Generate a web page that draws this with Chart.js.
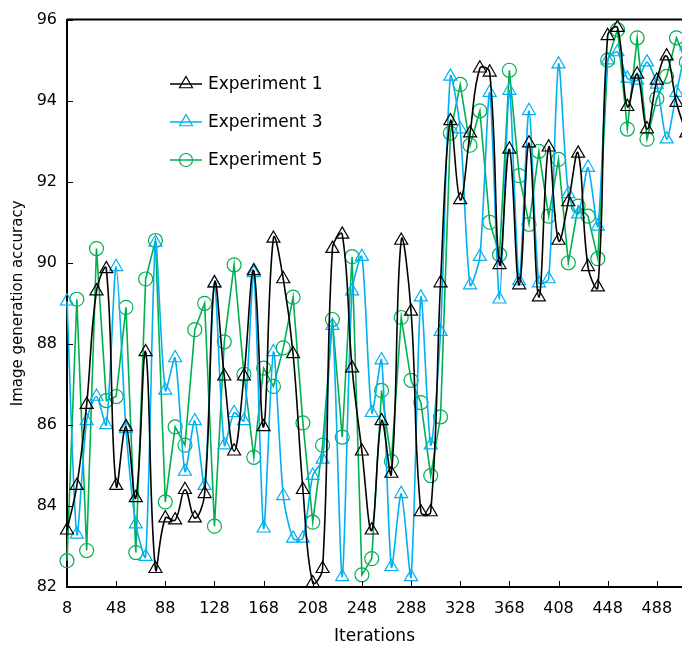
<!DOCTYPE html>
<html>
<head>
<meta charset="utf-8">
<script src="https://cdn.jsdelivr.net/npm/chart.js@4.4.1/dist/chart.umd.min.js"></script>
<style>
  body { margin: 0; background: #fff; overflow: hidden; }
  #wrap { width: 682px; height: 647px; }
</style>
</head>
<body>
<div id="wrap"><canvas id="chart" width="682" height="647"></canvas></div>
<script>
const iterations = [8, 16, 24, 32, 40, 48, 56, 64, 72, 80, 88, 96, 104, 112, 120, 128,
    136, 144, 152, 160, 168, 176, 184, 192, 200, 208, 216, 224, 232, 240, 248, 256,
    264, 272, 280, 288, 296, 304, 312, 320, 328, 336, 344, 352, 360, 368, 376, 384,
    392, 400, 408, 416, 424, 432, 440, 448, 456, 464, 472, 480, 488, 496, 504, 512];

const experiment1 = [83.4, 84.5, 86.5, 89.3, 89.85, 84.5, 85.95, 84.2, 87.8, 82.45,
    83.7, 83.65, 84.4, 83.7, 84.3, 89.5, 87.2, 85.35, 87.2, 89.8,
    85.95, 90.6, 89.6, 87.75, 84.4, 82.1, 82.45, 90.35, 90.7, 87.4,
    85.35, 83.4, 86.1, 84.8, 90.55, 88.8, 83.85, 83.85, 89.5, 93.5,
    91.55, 93.2, 94.8, 94.7, 89.95, 92.8, 89.45, 92.95, 89.15, 92.85,
    90.55, 91.5, 92.7, 89.9, 89.4, 95.6, 95.8, 93.85, 94.65, 93.3,
    94.5, 95.1, 93.95, 93.2];

const experiment3 = [89.05, 83.3, 86.1, 86.7, 86.0, 89.9, 85.9, 83.55, 82.75, 90.5,
    86.85, 87.65, 84.85, 86.1, 84.5, 89.5, 85.5, 86.3, 86.1, 89.75,
    83.45, 87.8, 84.25, 83.2, 83.2, 84.75, 85.15, 88.45, 82.25, 89.3,
    90.15, 86.3, 87.6, 82.5, 84.3, 82.25, 89.15, 85.5, 88.3, 94.6,
    93.3, 89.45, 90.15, 94.2, 89.1, 94.25, 89.55, 93.75, 89.5, 89.6,
    94.9, 91.7, 91.2, 92.35, 90.9, 95.0, 95.2, 94.55, 94.5, 94.95,
    94.4, 93.05, 94.2, 95.35];

const experiment5 = [82.65, 89.1, 82.9, 90.35, 86.6, 86.7, 88.9, 82.85, 89.6, 90.55,
    84.1, 85.95, 85.5, 88.35, 89.0, 83.5, 88.05, 89.95, 87.25, 85.2,
    87.4, 86.95, 87.9, 89.15, 86.05, 83.6, 85.5, 88.6, 85.7, 90.15,
    82.3, 82.7, 86.85, 85.1, 88.65, 87.1, 86.55, 84.75, 86.2, 93.2,
    94.4, 92.9, 93.75, 91.0, 90.2, 94.75, 92.15, 90.95, 92.75, 91.15,
    92.55, 90.0, 91.4, 91.15, 90.1, 95.0, 95.75, 93.3, 95.55, 93.05,
    94.05, 94.6, 95.55, 94.95];

const seriesNames = ['Experiment 1', 'Experiment 3', 'Experiment 5'];
const xTicks = [8, 48, 88, 128, 168, 208, 248, 288, 328, 368, 408, 448, 488];

const FONT = 'DejaVu Sans';

function points(values) {
    return values.map((v, i) => ({ x: iterations[i], y: v }));
}

function makeSet(label, values, color, style, radius, tension) {
    return {
        label: label,
        data: points(values),
        borderColor: color,
        borderWidth: 1.6,
        backgroundColor: 'transparent',
        pointStyle: style,
        pointRadius: radius,
        pointBorderColor: color,
        pointBackgroundColor: 'transparent',
        pointBorderWidth: 1.2,
        tension: tension,
        clip: false
    };
}

// frame on top + inward tick marks
const framePlugin = {
    id: 'frame',
    afterDraw(chart) {
        const ctx = chart.ctx;
        const area = chart.chartArea;
        ctx.save();
        ctx.strokeStyle = '#000';
        ctx.lineWidth = 2;
        ctx.beginPath();
        ctx.moveTo(area.left, area.top);
        ctx.lineTo(chart.width, area.top);
        ctx.stroke();

        ctx.lineWidth = 1;
        const xs = chart.scales.x;
        xs.ticks.forEach(t => {
            const px = Math.round(xs.getPixelForValue(t.value)) + 0.5;
            ctx.beginPath();
            ctx.moveTo(px, area.bottom);
            ctx.lineTo(px, area.bottom - 6);
            ctx.stroke();
        });
        const ys = chart.scales.y;
        ys.ticks.forEach(t => {
            const py = Math.round(ys.getPixelForValue(t.value)) + 0.5;
            ctx.beginPath();
            ctx.moveTo(area.left, py);
            ctx.lineTo(area.left + 6, py);
            ctx.stroke();
        });
        ctx.restore();
    }
};

// legend drawn inside the plot area
const legendPlugin = {
    id: 'insideLegend',
    afterDraw(chart) {
        const ctx = chart.ctx;
        const rows = [84, 122, 160];
        ctx.save();
        chart.data.datasets.forEach((ds, i) => {
            const y = rows[i];
            ctx.strokeStyle = ds.borderColor;
            ctx.fillStyle = 'rgba(0,0,0,0)';
            ctx.lineWidth = 1.5;
            ctx.beginPath();
            ctx.moveTo(170, y);
            ctx.lineTo(202, y);
            ctx.stroke();
            ctx.lineWidth = 1.2;
            Chart.helpers.drawPoint(ctx, {
                pointStyle: ds.pointStyle,
                radius: ds.pointStyle === 'circle' ? 6.5 : 7.5,
                rotation: 0,
                borderWidth: 1.2
            }, 186, y);
            ctx.fillStyle = '#000';
            ctx.font = '17px "' + FONT + '"';
            ctx.textBaseline = 'middle';
            ctx.textAlign = 'left';
            ctx.fillText(ds.label, 208, y + 1);
        });
        ctx.restore();
    }
};

Chart.defaults.font.family = FONT;
Chart.defaults.color = '#000';

new Chart(document.getElementById('chart'), {
    type: 'line',
    data: {
        datasets: [
            makeSet(seriesNames[0], experiment1, '#000000', 'triangle', 7.5, 0.4),
            makeSet(seriesNames[1], experiment3, '#00B0F0', 'triangle', 7.5, 0.25),
            makeSet(seriesNames[2], experiment5, '#00B050', 'circle', 7, 0)
        ]
    },
    options: {
        responsive: false,
        animation: false,
        layout: { autoPadding: false, padding: { top: 14, right: 0, left: 0, bottom: 0 } },
        plugins: {
            legend: { display: false },
            tooltip: { enabled: false }
        },
        scales: {
            x: {
                type: 'linear',
                min: 8,
                max: 508.5,
                afterBuildTicks: s => { s.ticks = xTicks.map(v => ({ value: v })); },
                afterFit: s => { s.height = 60; s.paddingLeft = 0; s.paddingRight = 0; },
                grid: { display: false, drawTicks: false },
                border: { display: true, color: '#000', width: 2 },
                ticks: { font: { size: 16 }, color: '#000', padding: 12, maxRotation: 0, autoSkip: false },
                title: { display: true, text: 'Iterations', font: { size: 17 }, color: '#000', padding: { top: 0, bottom: 0 } }
            },
            y: {
                min: 82,
                max: 96,
                afterFit: s => { s.width = 67; },
                grid: { display: false, drawTicks: false },
                border: { display: true, color: '#000', width: 2 },
                ticks: { stepSize: 2, font: { size: 16 }, color: '#000', padding: 10 },
                title: { display: true, text: 'Image generation accuracy', font: { size: 15 }, color: '#000', padding: { top: 9, bottom: 0 } }
            }
        }
    },
    plugins: [framePlugin, legendPlugin]
});
</script>
</body>
</html>
